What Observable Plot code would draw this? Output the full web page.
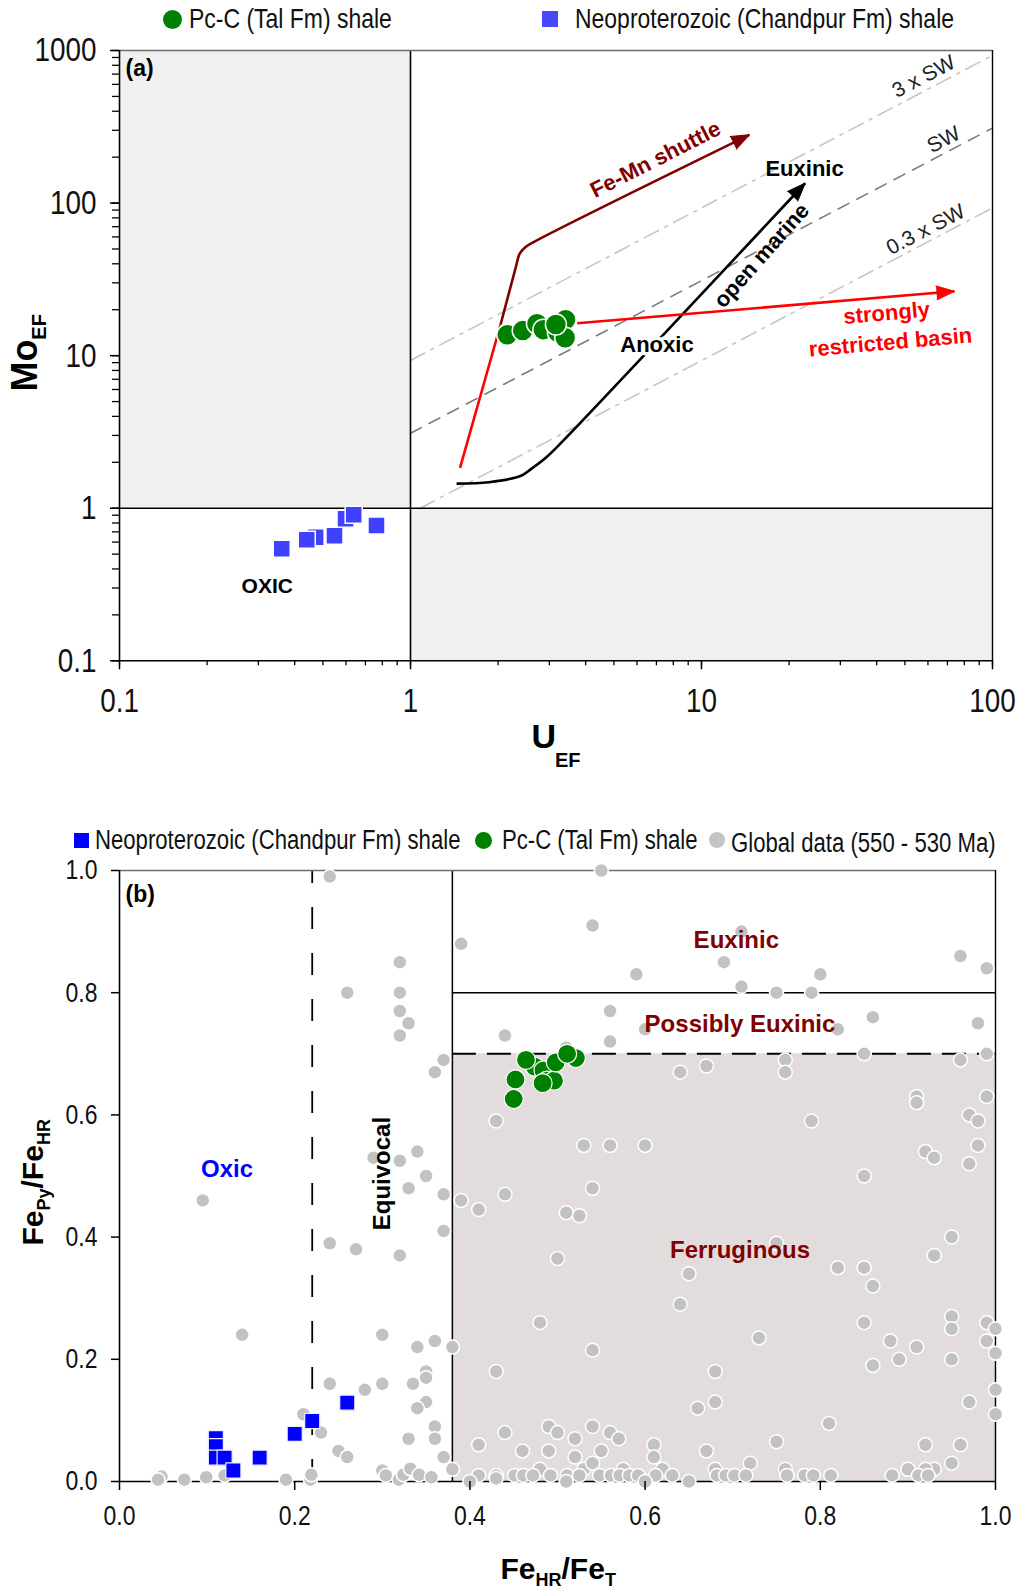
<!DOCTYPE html>
<html>
<head>
<meta charset="utf-8">
<title>Mo–U enrichment and iron speciation</title>
<script src="https://cdn.jsdelivr.net/npm/d3@7"></script>
<script src="https://cdn.jsdelivr.net/npm/@observablehq/plot@0.6"></script>
<style>
  html, body { margin: 0; padding: 0; background: #fff; }
  #page { width: 1019px; }
  .legend { position: relative; width: 1019px; }
  .legend .sym { position: absolute; box-sizing: border-box; }
  .legend .lab { position: absolute; white-space: nowrap; color: #111; transform-origin: 0 50%; }
  svg { display: block; }
</style>
</head>
<body>
<div id="page">
  <div id="legend-a" class="legend" style="height:38px"></div>
  <div id="chart-a"></div>
  <div id="legend-b" class="legend" style="height:43px"></div>
  <div id="chart-b"></div>
</div>
<script>
// ---------- fonts & colours ----------
const SANS = '"Liberation Sans", Arial, Helvetica, sans-serif';
const NARROW_K = 0.82;           // horizontal squeeze for the condensed labels
const DARK_RED = "#800000";
const RED = "#ff0000";
const GREEN = "#008000";

// ---------- panel (a): Mo_EF vs U_EF ----------
const seriesA = ["Pc-C (Tal Fm) shale", "Neoproterozoic (Chandpur Fm) shale"];
const uTicks = [0.1, 1, 10, 100];
const moTicks = [0.1, 1, 10, 100, 1000];

// Tal Fm shale
const talU  = [2.15, 2.43, 2.72, 2.86, 3.21, 3.41, 3.40, 3.16];
const talMo = [13.7, 14.6, 16.2, 14.8, 14.2, 17.2, 13.1, 16.0];
// Chandpur Fm shale
const chU  = [0.472, 0.44, 0.361, 0.548, 0.598, 0.638, 0.764];
const chMo = [0.645, 0.621, 0.542, 0.659, 0.853, 0.906, 0.77];

// seawater Mo/U reference lines (3 x SW, SW, 0.3 x SW)
const swLabels = ["3 x SW", "SW", "0.3 x SW"];
const sw3U = [1, 100],    sw3Mo = [9.3, 930];
const sw1U = [1, 100],    sw1Mo = [3.1, 310];
const sw03U = [1.08, 100], sw03Mo = [1.0, 93];

// process pathways
const redLimbU = [1.48, 2.04],  redLimbMo = [1.84, 16.0];
const shuttleU  = [2.04, 2.30, 2.37, 2.48, 2.64, 14.6];
const shuttleMo = [16.0, 37.9, 46.4, 51.3, 55.3, 280];
const marineU  = [1.44, 1.86, 2.41, 2.60, 2.93, 3.31, 22.7];
const marineMo = [1.45, 1.48, 1.64, 1.81, 2.16, 2.71, 134.9];
const basinU  = [3.74, 74];
const basinMo = [16.3, 26.4];

// ---------- panel (b): Fe_Py/Fe_HR vs Fe_HR/Fe_T ----------
const seriesB = ["Neoproterozoic (Chandpur Fm) shale", "Pc-C (Tal Fm) shale", "Global data (550 - 530 Ma)"];
const feTicks = [0, 0.2, 0.4, 0.6, 0.8, 1.0];

const chFeHR = [0.11, 0.11, 0.11, 0.12, 0.13, 0.16, 0.20, 0.22, 0.26];
const chFePy = [0.071, 0.058, 0.039, 0.039, 0.018, 0.039, 0.078, 0.099, 0.129];

const talFeHR = [0.450, 0.452, 0.474, 0.484, 0.488, 0.496, 0.483, 0.498, 0.521, 0.511, 0.464];
const talFePy = [0.626, 0.658, 0.679, 0.673, 0.656, 0.656, 0.652, 0.686, 0.693, 0.700, 0.690];

const globalFeHR = [
  0.24, 0.32, 0.26, 0.32, 0.32, 0.33, 0.32, 0.37, 0.36, 0.34,
  0.32, 0.29, 0.35, 0.095, 0.33, 0.37, 0.37, 0.24, 0.27, 0.32,
  0.14, 0.30, 0.34, 0.36, 0.24, 0.28, 0.30, 0.335, 0.35, 0.35,
  0.35, 0.34, 0.21, 0.23, 0.25, 0.26, 0.36, 0.36, 0.33, 0.37,
  0.048, 0.044, 0.074, 0.099, 0.12, 0.19, 0.218, 0.219, 0.30, 0.304,
  0.319, 0.324, 0.332, 0.342, 0.356,
  0.39, 0.39, 0.38, 0.38, 0.55, 0.54, 0.71, 0.69, 0.59, 0.71,
  0.75, 0.79, 0.80, 0.96, 0.99, 0.56, 0.44, 0.56, 0.60, 0.82,
  0.86, 0.98, 0.51, 0.76, 0.85, 0.96, 0.99, 0.64, 0.67, 0.76,
  0.91, 0.91, 0.99, 0.43, 0.79, 0.97, 0.98, 0.53, 0.56, 0.60,
  0.92, 0.93, 0.98, 0.97, 0.85,
  0.41, 0.44, 0.54, 0.51, 0.525, 0.75, 0.95, 0.93, 0.50, 0.65,
  0.82, 0.85, 0.86, 0.64, 0.48, 0.85, 0.95, 0.95, 0.99, 1.00,
  0.73, 0.88, 0.91, 0.99, 1.00, 0.89, 0.86, 0.95, 0.54, 0.43,
  0.68, 0.68, 0.66, 1.00, 0.97, 1.00, 0.81,
  0.44, 0.49, 0.50, 0.54, 0.56, 0.57, 0.52, 0.41, 0.46, 0.49,
  0.55, 0.52, 0.61, 0.61, 0.67, 0.75, 0.72, 0.92, 0.96, 0.95,
  0.93, 0.90, 0.92, 0.48, 0.53, 0.54, 0.575, 0.62, 0.68, 0.76,
  0.41, 0.43, 0.451, 0.461, 0.472, 0.492, 0.511, 0.525, 0.548, 0.561,
  0.571, 0.582, 0.592, 0.612, 0.631, 0.682, 0.692, 0.702, 0.715, 0.762,
  0.782, 0.792, 0.812, 0.882, 0.912, 0.923, 0.40, 0.43, 0.51, 0.60,
  0.65
];
const globalFePy = [
  0.99, 0.85, 0.80, 0.80, 0.77, 0.75, 0.73, 0.69, 0.67, 0.54,
  0.525, 0.53, 0.50, 0.46, 0.48, 0.47, 0.41, 0.39, 0.38, 0.37,
  0.24, 0.24, 0.22, 0.23, 0.16, 0.15, 0.16, 0.16, 0.18, 0.17,
  0.13, 0.12, 0.11, 0.08, 0.05, 0.04, 0.09, 0.07, 0.07, 0.04,
  0.008, 0.003, 0.003, 0.007, 0.01, 0.003, 0.003, 0.011, 0.018, 0.01,
  0.003, 0.011, 0.021, 0.011, 0.007,
  0.88, 0.46, 0.22, 0.02, 1.00, 0.91, 0.90, 0.85, 0.83, 0.81,
  0.80, 0.80, 0.83, 0.86, 0.84, 0.77, 0.73, 0.72, 0.74, 0.74,
  0.76, 0.75, 0.71, 0.69, 0.70, 0.69, 0.70, 0.67, 0.68, 0.67,
  0.63, 0.62, 0.63, 0.59, 0.59, 0.60, 0.59, 0.55, 0.55, 0.55,
  0.54, 0.53, 0.55, 0.52, 0.50,
  0.445, 0.47, 0.48, 0.44, 0.435, 0.39, 0.40, 0.37, 0.365, 0.34,
  0.35, 0.35, 0.32, 0.29, 0.26, 0.26, 0.27, 0.25, 0.26, 0.25,
  0.235, 0.23, 0.22, 0.23, 0.21, 0.20, 0.19, 0.20, 0.215, 0.18,
  0.18, 0.13, 0.12, 0.15, 0.13, 0.11, 0.095,
  0.08, 0.09, 0.08, 0.09, 0.08, 0.07, 0.07, 0.06, 0.05, 0.05,
  0.05, 0.04, 0.06, 0.04, 0.05, 0.065, 0.03, 0.06, 0.06, 0.03,
  0.02, 0.02, 0.02, 0.02, 0.02, 0.03, 0.02, 0.02, 0.02, 0.02,
  0.01, 0.01, 0.01, 0.01, 0.01, 0.01, 0.01, 0.01, 0.01, 0.01,
  0.01, 0.01, 0.01, 0.01, 0.01, 0.01, 0.01, 0.01, 0.01, 0.01,
  0.01, 0.01, 0.01, 0.01, 0.01, 0.01, 0.0, 0.005, 0.0, 0.0,
  0.0
];

// redox thresholds for panel (b)
const oxicLimit = 0.22, anoxicLimit = 0.38, euxinicLimit = 0.8, possEuxLimit = 0.7;

// ---------- helpers ----------
const pts = (xs, ys) => xs.map((x, i) => ({x, y: ys[i]}));

// render hook: squeezes each label horizontally about its own anchor (condensed look)
const squeeze = (k) => (index, scales, values, dimensions, context, next) => {
  const g = next(index, scales, values, dimensions, context);
  for (const t of g.querySelectorAll("text")) {
    t.setAttribute("transform", `${t.getAttribute("transform") || ""} scale(${k},1)`);
  }
  return g;
};

function legend(el, items, cy, fontSize) {
  for (const it of items) {
    const s = document.createElement("div");
    s.className = "sym";
    Object.assign(s.style, {
      left: (it.sx - it.size / 2) + "px", top: (cy - it.size / 2) + "px",
      width: it.size + "px", height: it.size + "px", background: it.color,
      borderRadius: it.shape === "circle" ? "50%" : "0"
    });
    el.appendChild(s);
    const t = document.createElement("div");
    t.className = "lab";
    t.textContent = it.label;
    Object.assign(t.style, {
      left: it.tx + "px", top: (cy - fontSize * 0.6 + (it.dy || 0)) + "px",
      fontSize: fontSize + "px", lineHeight: (fontSize * 1.2) + "px", fontFamily: SANS,
      transform: `scaleX(${NARROW_K})`
    });
    el.appendChild(t);
  }
}

legend(document.getElementById("legend-a"), [
  {label: seriesA[0], shape: "circle", color: GREEN, size: 19, sx: 172, tx: 189},
  {label: seriesA[1], shape: "square", color: "#4848ff", size: 16, sx: 550, tx: 575}
], 19, 28);

legend(document.getElementById("legend-b"), [
  {label: seriesB[0], shape: "square", color: "#0000ff", size: 15, sx: 81, tx: 95},
  {label: seriesB[1], shape: "circle", color: GREEN, size: 17, sx: 483, tx: 502},
  {label: seriesB[2], shape: "circle", color: "#c4c4c4", size: 16, sx: 717, tx: 731, dy: 3}
], 25, 27);

// ---------- panel (a) ----------
const minorU = d3.scaleLog().domain([0.1, 100]).ticks();
const minorMo = d3.scaleLog().domain([0.1, 1000]).ticks();
const bold = {fontFamily: SANS, fontWeight: "bold"};
const mid = {lineAnchor: "middle"};

const chartA = Plot.plot({
  width: 1019, height: 777,
  marginTop: 12, marginRight: 27, marginBottom: 154.7, marginLeft: 119,
  style: {fontFamily: SANS, background: "white", overflow: "visible"},
  x: {type: "log", domain: [0.1, 100], axis: null, label: null},
  y: {type: "log", domain: [0.1, 1000], axis: null, label: null},
  marks: [
    // grey quadrants
    Plot.rect([{x1: 0.1, x2: 1, y1: 1, y2: 1000}, {x1: 1, x2: 100, y1: 0.1, y2: 1}],
      {x1: "x1", x2: "x2", y1: "y1", y2: "y2", fill: "#f0f0f0"}),
    // seawater ratio lines
    Plot.line(pts(sw3U, sw3Mo), {x: "x", y: "y", stroke: "#c6c6c6", strokeWidth: 1.6, strokeDasharray: "16,7,3,7"}),
    Plot.line(pts(sw1U, sw1Mo), {x: "x", y: "y", stroke: "#7c7c7c", strokeWidth: 1.6, strokeDasharray: "12,9"}),
    Plot.line(pts(sw03U, sw03Mo), {x: "x", y: "y", stroke: "#c6c6c6", strokeWidth: 1.6, strokeDasharray: "16,7,3,7"}),
    Plot.text(swLabels, {x: [58, 67.9, 58.9], y: [675, 260.6, 67], text: d => d, rotate: -27.7,
      fontSize: 21, fontFamily: SANS, fill: "#222"}),
    // quadrant boundaries and frame
    Plot.ruleX([1], {stroke: "#000", strokeWidth: 1.6}),
    Plot.ruleY([1], {stroke: "#000", strokeWidth: 1.6}),
    Plot.ruleY([1000], {stroke: "#6e6e6e", strokeWidth: 1.4}),
    Plot.ruleX([100], {stroke: "#000", strokeWidth: 1.4}),
    Plot.ruleX([0.1], {stroke: "#000", strokeWidth: 1.6}),
    Plot.ruleY([0.1], {stroke: "#000", strokeWidth: 1.6}),
    // pathways
    Plot.line(pts(redLimbU, redLimbMo), {x: "x", y: "y", stroke: RED, strokeWidth: 2.6, strokeLinecap: "butt"}),
    Plot.line(pts(shuttleU, shuttleMo), {x: "x", y: "y", stroke: DARK_RED, strokeWidth: 2.6, curve: "catmull-rom", strokeLinecap: "butt"}),
    Plot.line(pts(marineU, marineMo), {x: "x", y: "y", stroke: "#000", strokeWidth: 2.6, curve: "catmull-rom", strokeLinecap: "butt"}),
    Plot.line(pts(basinU, basinMo), {x: "x", y: "y", stroke: RED, strokeWidth: 2.6, strokeLinecap: "butt"}),
    Plot.vector([0], {x: [shuttleU.at(-1)], y: [shuttleMo.at(-1)], rotate: 63.6, length: 18, r: 7,
      shape: "spike", anchor: "end", fill: DARK_RED, stroke: DARK_RED, strokeWidth: 1}),
    Plot.vector([0], {x: [marineU.at(-1)], y: [marineMo.at(-1)], rotate: 43.6, length: 18, r: 7,
      shape: "spike", anchor: "end", fill: "#000", stroke: "#000", strokeWidth: 1}),
    Plot.vector([0], {x: [basinU.at(-1)], y: [basinMo.at(-1)], rotate: 85.2, length: 18, r: 7,
      shape: "spike", anchor: "end", fill: RED, stroke: RED, strokeWidth: 1}),
    // annotations
    Plot.text(["Fe-Mn shuttle"], {x: [6.95], y: [192.7], rotate: -27, fill: DARK_RED, fontSize: 22, ...bold}),
    Plot.text(["Euxinic"], {x: [22.6], y: [168.3], fill: "#000", fontSize: 22, ...bold}),
    Plot.text(["open marine"], {x: [16.1], y: [45.3], rotate: -48.5, fill: "#000", fontSize: 22, ...bold}),
    Plot.text(["Anoxic"], {x: [7.03], y: [11.8], fill: "#000", stroke: "white", strokeWidth: 7, fontSize: 22, ...bold}),
    Plot.text(["strongly"], {x: [43.3], y: [18.97], rotate: -5, fill: RED, fontSize: 22, ...bold}),
    Plot.text(["restricted basin"], {x: [44.6], y: [12.2], rotate: -5, fill: RED, fontSize: 22, ...bold}),
    Plot.text(["OXIC"], {x: [0.322], y: [0.307], fill: "#000", fontSize: 21, ...bold}),
    Plot.text(["(a)"], {frameAnchor: "top-left", dx: 6, dy: 18, textAnchor: "start", fill: "#000", fontSize: 23, ...bold, ...mid}),
    // samples
    Plot.dot(pts(chU, chMo), {x: "x", y: "y", symbol: "square", r: 9.6, fill: "#4040ff", stroke: "white", strokeWidth: 1.5}),
    Plot.dot(pts(talU, talMo), {x: "x", y: "y", r: 10.5, fill: GREEN, stroke: "white", strokeWidth: 1.5}),
    // axes
    Plot.axisX(minorU, {anchor: "bottom", tickSize: 5, fill: "none", label: null, strokeWidth: 1.3}),
    Plot.axisX(uTicks, {anchor: "bottom", tickSize: 9, fill: "none", label: null, strokeWidth: 1.5}),
    Plot.axisY(minorMo, {anchor: "left", tickSize: 7, fill: "none", label: null, strokeWidth: 1.3}),
    Plot.axisY(moTicks, {anchor: "left", tickSize: 9, fill: "none", label: null, strokeWidth: 1.5}),
    Plot.text(uTicks, {x: d => d, frameAnchor: "bottom", dy: 40, text: d => `${d}`, fontSize: 34, fontFamily: SANS,
      fill: "#111", ...mid, render: squeeze(NARROW_K)}),
    Plot.text(moTicks, {y: d => d, frameAnchor: "left", dx: -23, textAnchor: "end", text: d => `${d}`, fontSize: 34, fontFamily: SANS,
      fill: "#111", ...mid, render: squeeze(NARROW_K)}),
    // axis titles
    Plot.text(["Mo"], {frameAnchor: "left", dx: -94, dy: 35.8, rotate: -90, textAnchor: "start", fontSize: 36, ...bold, ...mid, fill: "#000"}),
    Plot.text(["EF"], {frameAnchor: "left", dx: -80, dy: -16, rotate: -90, textAnchor: "start", fontSize: 20, ...bold, ...mid, fill: "#000"}),
    Plot.text(["U"], {frameAnchor: "bottom", dx: -24.5, dy: 76.7, textAnchor: "start", fontSize: 34, ...bold, ...mid, fill: "#000"}),
    Plot.text(["EF"], {frameAnchor: "bottom", dx: -1, dy: 100, textAnchor: "start", fontSize: 20, ...bold, ...mid, fill: "#000"})
  ]
});
document.getElementById("chart-a").appendChild(chartA);

// ---------- panel (b) ----------
const chartB = Plot.plot({
  width: 1019, height: 732,
  marginTop: 12, marginRight: 24, marginBottom: 109, marginLeft: 119,
  style: {fontFamily: SANS, background: "white", overflow: "visible"},
  x: {domain: [0, 1], axis: null, label: null},
  y: {domain: [0, 1], axis: null, label: null},
  marks: [
    // ferruginous field
    Plot.rect([{x1: anoxicLimit, x2: 1, y1: 0, y2: possEuxLimit}], {x1: "x1", x2: "x2", y1: "y1", y2: "y2", fill: "#e2dcdc"}),
    // redox boundaries
    Plot.ruleX([oxicLimit], {y1: 0, y2: 1, stroke: "#000", strokeWidth: 1.8, strokeDasharray: "22,24"}),
    Plot.ruleX([anoxicLimit], {y1: 0, y2: 1, stroke: "#000", strokeWidth: 1.5}),
    Plot.ruleY([euxinicLimit], {x1: anoxicLimit, x2: 1, stroke: "#000", strokeWidth: 1.5}),
    Plot.ruleY([possEuxLimit], {x1: anoxicLimit, x2: 1, stroke: "#000", strokeWidth: 2, strokeDasharray: "24,11"}),
    // frame
    Plot.ruleY([1], {stroke: "#6e6e6e", strokeWidth: 1.4}),
    Plot.ruleX([1], {stroke: "#000", strokeWidth: 1.4}),
    Plot.ruleX([0], {stroke: "#000", strokeWidth: 1.6}),
    Plot.ruleY([0], {stroke: "#000", strokeWidth: 1.6}),
    // samples
    Plot.dot(pts(globalFeHR, globalFePy), {x: "x", y: "y", r: 7, fill: "#c2c2c2", stroke: "white", strokeWidth: 1.5}),
    Plot.dot(pts(chFeHR, chFePy), {x: "x", y: "y", symbol: "square", r: 8.5, fill: "#0000ff", stroke: "#eef", strokeWidth: 1.2}),
    Plot.dot(pts(talFeHR, talFePy), {x: "x", y: "y", r: 9.5, fill: GREEN, stroke: "white", strokeWidth: 1.2}),
    // field labels
    Plot.text(["Oxic"], {x: [0.1227], y: [0.5106], fill: "#0000ff", fontSize: 24, ...bold}),
    Plot.text(["Equivocal"], {x: [0.2997], y: [0.504], rotate: -90, fill: "#000", fontSize: 24, ...bold}),
    Plot.text(["Euxinic"], {x: [0.7041], y: [0.8854], fill: DARK_RED, fontSize: 24, ...bold}),
    Plot.text(["Possibly Euxinic"], {x: [0.7083], y: [0.749], fill: DARK_RED, fontSize: 24, ...bold}),
    Plot.text(["Ferruginous"], {x: [0.7083], y: [0.379], fill: DARK_RED, fontSize: 24, ...bold}),
    Plot.text(["(b)"], {frameAnchor: "top-left", dx: 6, dy: 24, textAnchor: "start", fill: "#000", fontSize: 23, ...bold, ...mid}),
    // axes
    Plot.axisX(feTicks, {anchor: "bottom", tickSize: 9, fill: "none", label: null, strokeWidth: 1.5}),
    Plot.axisY(feTicks, {anchor: "left", tickSize: 8, fill: "none", label: null, strokeWidth: 1.5}),
    Plot.text(feTicks, {x: d => d, frameAnchor: "bottom", dy: 35, text: d => d.toFixed(1), fontSize: 28, fontFamily: SANS,
      fill: "#111", ...mid, render: squeeze(NARROW_K)}),
    Plot.text(feTicks, {y: d => d, frameAnchor: "left", dx: -22, textAnchor: "end", text: d => d.toFixed(1), fontSize: 28, fontFamily: SANS,
      fill: "#111", ...mid, render: squeeze(NARROW_K)}),
    // axis titles
    Plot.text(["Fe"], {frameAnchor: "bottom", dx: -57, dy: 88, textAnchor: "start", fontSize: 30, ...bold, ...mid, fill: "#000"}),
    Plot.text(["HR"], {frameAnchor: "bottom", dx: -22, dy: 99, textAnchor: "start", fontSize: 18, ...bold, ...mid, fill: "#000"}),
    Plot.text(["/Fe"], {frameAnchor: "bottom", dx: 4, dy: 88, textAnchor: "start", fontSize: 30, ...bold, ...mid, fill: "#000"}),
    Plot.text(["T"], {frameAnchor: "bottom", dx: 47.4, dy: 99, textAnchor: "start", fontSize: 18, ...bold, ...mid, fill: "#000"}),
    Plot.text(["Fe"], {frameAnchor: "left", dx: -86, dy: 69.5, rotate: -90, textAnchor: "start", fontSize: 30, ...bold, ...mid, fill: "#000"}),
    Plot.text(["Py"], {frameAnchor: "left", dx: -75, dy: 34.5, rotate: -90, textAnchor: "start", fontSize: 18, ...bold, ...mid, fill: "#000"}),
    Plot.text(["/Fe"], {frameAnchor: "left", dx: -86, dy: 12.5, rotate: -90, textAnchor: "start", fontSize: 30, ...bold, ...mid, fill: "#000"}),
    Plot.text(["HR"], {frameAnchor: "left", dx: -75, dy: -31, rotate: -90, textAnchor: "start", fontSize: 18, ...bold, ...mid, fill: "#000"})
  ]
});
document.getElementById("chart-b").appendChild(chartB);
</script>
</body>
</html>
